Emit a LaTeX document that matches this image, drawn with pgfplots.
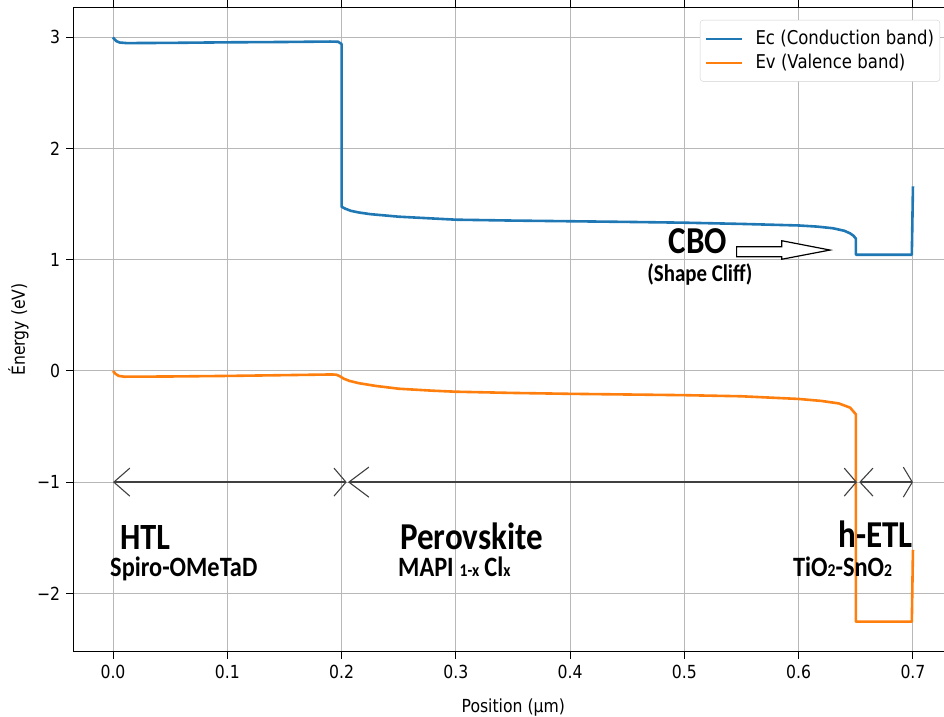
\documentclass[border=0pt]{standalone}
\usepackage{fontspec}
\setmainfont{DejaVu Sans}[FakeStretch=0.87]
\newfontfamily\annot{Carlito}[FakeStretch=0.87]
\usepackage{pgfplots}
\usepackage{pgfplotstable}
\pgfplotsset{compat=1.18}
\usetikzlibrary{arrows.meta}
\definecolor{tabblue}{HTML}{1F77B4}
\definecolor{taborange}{HTML}{FF7F0E}

\pgfplotstableread{
x y
0.000 3.000
0.001 2.985
0.003 2.965
0.006 2.953
0.012 2.948
0.050 2.950
0.100 2.955
0.150 2.958
0.190 2.962
0.197 2.960
0.200 2.940
0.200 1.477
0.203 1.460
0.208 1.440
0.215 1.425
0.225 1.410
0.250 1.387
0.300 1.360
0.350 1.352
0.400 1.346
0.450 1.340
0.500 1.333
0.550 1.322
0.600 1.308
0.616 1.298
0.630 1.283
0.640 1.260
0.645 1.237
0.648 1.215
0.650 1.190
0.650 1.045
0.699 1.045
0.700 1.660
}\Ec

\pgfplotstableread{
x y
0.000 0.000
0.002 -0.025
0.005 -0.045
0.010 -0.052
0.050 -0.050
0.100 -0.045
0.150 -0.038
0.190 -0.032
0.195 -0.033
0.198 -0.045
0.202 -0.070
0.207 -0.090
0.215 -0.110
0.230 -0.135
0.250 -0.160
0.280 -0.178
0.300 -0.187
0.350 -0.198
0.400 -0.206
0.450 -0.212
0.500 -0.218
0.550 -0.228
0.600 -0.252
0.620 -0.270
0.635 -0.292
0.645 -0.330
0.650 -0.390
0.650 -2.255
0.699 -2.255
0.700 -1.610
}\Ev

\begin{document}
\fontsize{18}{21}\selectfont
\begin{tikzpicture}
\useasboundingbox (-73.3pt,-64.3pt) rectangle (870.7pt,651.7pt);
\begin{axis}[
  at={(0pt,0pt)}, anchor=south west,
  scale only axis, width=880pt, height=644.4pt,
  xmin=-0.03474, xmax=0.7353, ymin=-2.525, ymax=3.270,
  xtick={0,0.1,0.2,0.3,0.4,0.5,0.6,0.7},
  xticklabels={0.0,0.1,0.2,0.3,0.4,0.5,0.6,0.7},
  ytick={-2,-1,0,1,2,3},
  yticklabels={−2,−1,0,1,2,3},
  tick align=outside, major tick length=7pt,
  tick style={black, line width=1pt},
  grid=major, grid style={color=black!28, line width=1pt},
  axis line style={line width=1.2pt},
  every tick label/.append style={font=\fontsize{18}{21}\selectfont},
  xlabel={Position (µm)}, ylabel={Énergy (eV)},
  xlabel style={at={(axis description cs:0.5,-0.0936)}, anchor=base, font=\fontsize{18}{21}\selectfont},
  ylabel style={at={(axis description cs:-0.0549,0.5)}, anchor=base, font=\fontsize{18}{21}\selectfont},
  legend style={at={(axis cs:0.5136,3.156)}, anchor=north west, draw=black!18,
    rounded corners=3pt, fill=white, font=\fontsize{19}{22}\selectfont,
    inner ysep=9pt, inner xsep=5pt, row sep=5pt, column sep=11pt,
    nodes={inner sep=1pt},
    cells={anchor=west}},
  legend image code/.code={\draw[#1, line width=2.4pt] (0pt,0pt) -- (36pt,0pt);},
  clip=false,
]
\addplot[tabblue, line width=2.6pt, line join=round] table[x=x,y=y] {\Ec};
\addlegendentry{Ec (Conduction band)}
\addplot[taborange, line width=2.6pt, line join=round] table[x=x,y=y] {\Ev};
\addlegendentry{Ev (Valence band)}

% layer arrows
\draw[black!75, line width=1.3pt, {Straight Barb[length=16pt,width=28pt,line width=1.1pt]}-{Straight Barb[length=12pt,width=28pt,line width=1.1pt]}]
  (axis cs:0,-1) -- (axis cs:0.2045,-1);
\draw[black!75, line width=1.3pt, {Straight Barb[length=20pt,width=30pt,line width=1.1pt]}-{Straight Barb[length=12pt,width=28pt,line width=1.1pt]}]
  (axis cs:0.2056,-1) -- (axis cs:0.651,-1);
\draw[black!75, line width=1.3pt, {Straight Barb[length=13pt,width=28pt,line width=1.1pt]}-{Straight Barb[length=9pt,width=30pt,line width=1.1pt]}]
  (axis cs:0.653,-1) -- (axis cs:0.7,-1);

% CBO hollow arrow
\draw[black, line width=1.2pt, fill=white, line join=miter]
  (axis cs:0.5457,1.117) -- (axis cs:0.5851,1.117) -- (axis cs:0.5851,1.171)
  -- (axis cs:0.6274,1.087) -- (axis cs:0.5851,1.004) -- (axis cs:0.5851,1.027)
  -- (axis cs:0.5457,1.027) -- cycle;
\node[anchor=base, inner sep=0pt, font=\annot\bfseries\fontsize{38}{40}\selectfont] at (axis cs:0.5119,1.060) {CBO};
\node[anchor=base, inner sep=0pt, font=\annot\bfseries\fontsize{24}{26}\selectfont] at (axis cs:0.5136,0.800) {(Shape Cliff)};

% layer labels
\node[anchor=base west, inner sep=0pt, font=\annot\bfseries\fontsize{37}{40}\selectfont] at (axis cs:0.0061,-1.608) {HTL};
\node[anchor=base west, inner sep=0pt, font=\annot\bfseries\fontsize{28}{30}\selectfont] at (axis cs:-0.0026,-1.850) {Spiro-OMeTaD};
\node[anchor=base west, inner sep=0pt, font=\annot\bfseries\fontsize{38}{40}\selectfont] at (axis cs:0.2511,-1.608) {Perovskite};
\node[anchor=base west, inner sep=0pt, font=\annot\bfseries\fontsize{28}{30}\selectfont] at (axis cs:0.2494,-1.850) {MAPI\hspace{6pt}{\fontsize{18}{20}\selectfont 1-x}\hspace{5pt}Cl{\fontsize{18}{20}\selectfont x}};
\node[anchor=base east, inner sep=0pt, font=\annot\bfseries\fontsize{38}{40}\selectfont] at (axis cs:0.7,-1.590) {h-ETL};
\node[anchor=base west, inner sep=0pt, font=\annot\bfseries\fontsize{28}{30}\selectfont] at (axis cs:0.595,-1.850) {TiO{\fontsize{18}{20}\selectfont 2}-SnO{\fontsize{18}{20}\selectfont 2}};
\end{axis}
\end{tikzpicture}
\end{document}
